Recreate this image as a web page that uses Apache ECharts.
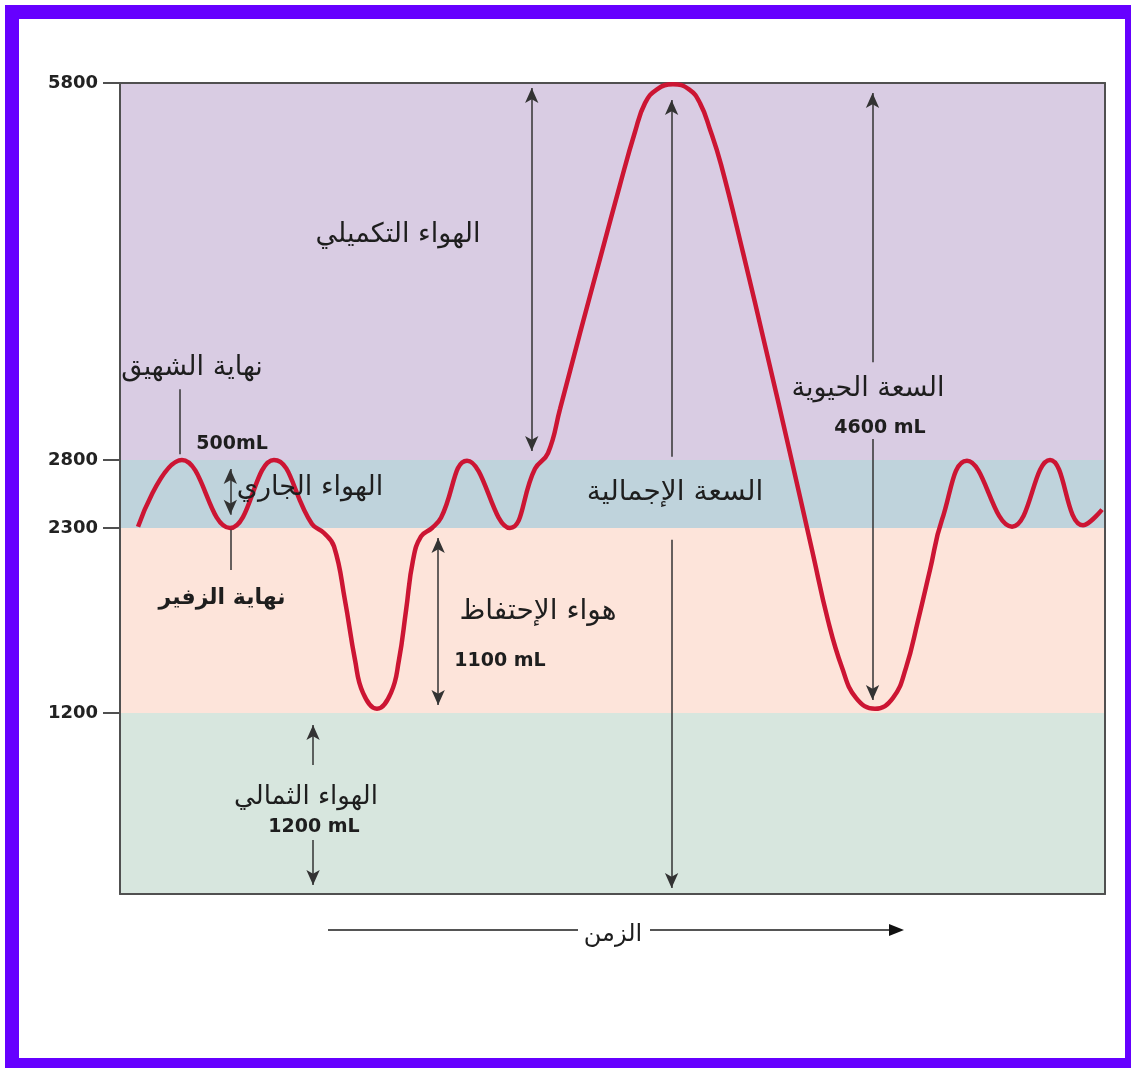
<!DOCTYPE html>
<html><head><meta charset="utf-8">
<script src="https://cdn.jsdelivr.net/npm/echarts@6/dist/echarts.min.js"></script>
<style>html,body{margin:0;padding:0;background:#fff}#c{width:1131px;height:1068px}</style>
</head><body><div id="c"></div>
<script>
// ---- data ----
// time in arbitrary units (0..100 across the plot), lung volume in mL
const timeUnits = [1.83, 6.29, 11.17, 15.63, 19.49, 20.71, 21.73, 22.84, 23.86, 24.67, 26.09, 27.51, 28.32, 29.04, 29.75, 30.56, 31.68, 32.59, 35.23, 39.59, 42.13, 43.45, 44.67, 46.70, 48.73, 50.76, 52.28, 53.30, 54.52, 56.14, 57.77, 58.88, 59.90, 61.02, 63.25, 65.58, 67.92, 70.25, 71.88, 73.30, 74.72, 76.65, 78.48, 79.80, 81.02, 82.23, 83.45, 85.99, 90.56, 94.42, 97.77, 99.70];
const volumeML  = [2310, 2800, 2300, 2800, 2330, 2270, 2190, 1870, 1515, 1320, 1225, 1320, 1515, 1810, 2110, 2250, 2300, 2375, 2795, 2300, 2735, 2855, 3205, 3810, 4400, 4990, 5410, 5640, 5750, 5790, 5750, 5640, 5430, 5150, 4450, 3680, 2890, 2170, 1750, 1470, 1290, 1225, 1290, 1470, 1750, 2050, 2360, 2795, 2310, 2800, 2320, 2435];

// y tick labels (mL)
const yTickValues = [1200, 2300, 2800, 5800];
// lung-volume bands (mL edges) and their fills
const bandEdges = [0, 1200, 2300, 2800, 5800];
const bandColors = ['#d7e6de', '#fde4da', '#bfd3dc', '#d9cce3'];

// the reference draws the volume axis piecewise-linearly; breakpoints of that scale
const scaleVol  = [0, 1200, 2300, 2800, 5800];
const scaleDisp = [0, 181, 366, 434, 811];
function toDisp(v){
  for (let i=1;i<scaleVol.length;i++){
    if (v<=scaleVol[i] || i===scaleVol.length-1){
      const a=scaleVol[i-1], b=scaleVol[i];
      return scaleDisp[i-1] + (v-a)/(b-a)*(scaleDisp[i]-scaleDisp[i-1]);
    }
  }
}
function toVol(d){
  for (let i=1;i<scaleDisp.length;i++){
    if (d<=scaleDisp[i]+1e-6 || i===scaleDisp.length-1){
      const a=scaleDisp[i-1], b=scaleDisp[i];
      return scaleVol[i-1] + (d-a)/(b-a)*(scaleVol[i]-scaleVol[i-1]);
    }
  }
}

// annotation arrows: time, from volume, to volume, heads at [from, to]
const arrowT    = [41.8, 56.0, 56.0, 76.4, 76.4, 32.3, 11.2, 19.6, 19.6, 6.1, 11.2];
const arrowFrom = [2871, 2825, 2230, 3578, 2967, 2240, 2733, 855, 358, 2845, 2289];
const arrowTo   = [5760, 5665, 40, 5720, 1277, 1248, 2397, 1120, 60, 3363, 2050];
const arrowHeads= [[1,1],[0,1],[0,1],[0,1],[0,1],[1,1],[1,1],[0,1],[0,1],[0,0],[0,0]];

// ---- chart ----
const chart = echarts.init(document.getElementById('c'), null, {renderer:'canvas'});
const curve = timeUnits.map((t,i)=>[t, toDisp(volumeML[i])]);
const bands = bandColors.map((c,i)=>[{yAxis: toDisp(bandEdges[i]), itemStyle:{color:c}}, {yAxis: toDisp(bandEdges[i+1])}]);
const arrowLines = arrowT.map((t,i)=>[
  {coord:[t, toDisp(arrowFrom[i])], symbol: arrowHeads[i][0]?'arrow':'none'},
  {coord:[t, toDisp(arrowTo[i])],   symbol: arrowHeads[i][1]?'arrow':'none'}
]);

const AR = '"DejaVu Sans", sans-serif';
const NUM = '"DejaVu Sans", "Liberation Sans", sans-serif';
function txt(text, x, y, size, bold, fam){
  return {type:'text', x:x, y:y, z:10, style:{text:text, fill:'#1e1e1e', align:'center', verticalAlign:'middle',
    font:(bold?'bold ':'')+size+'px '+(fam||AR)}};
}
const frameColor = '#6600ff';

const option = {
  animation:false,
  backgroundColor:'#ffffff',
  grid:{left:120, top:83, right:26, bottom:174, containLabel:false, outerBoundsMode:'none', show:false},
  xAxis:[
    {type:'value', min:0, max:100, position:'bottom', z:3,
     axisLine:{show:true, onZero:false, lineStyle:{color:'#505050', width:2}}, axisTick:{show:false}, axisLabel:{show:false}, splitLine:{show:false}},
    {type:'value', min:0, max:100, position:'top', z:3,
     axisLine:{show:true, onZero:false, lineStyle:{color:'#505050', width:2}}, axisTick:{show:false}, axisLabel:{show:false}, splitLine:{show:false}}
  ],
  yAxis:[
    {type:'value', min:0, max:811, position:'left', z:3,
     axisLine:{show:true, onZero:false, lineStyle:{color:'#505050', width:2}},
     axisTick:{show:true, length:17, lineStyle:{color:'#505050', width:2}, customValues: yTickValues.map(toDisp)},
     axisLabel:{show:true, customValues: yTickValues.map(toDisp), margin:22,
       formatter:(d)=>String(Math.round(toVol(d)/100)*100), color:'#222', fontSize:18, fontWeight:'bold', fontFamily:NUM},
     splitLine:{show:false}},
    {type:'value', min:0, max:811, position:'right', z:3,
     axisLine:{show:true, onZero:false, lineStyle:{color:'#505050', width:2}}, axisTick:{show:false}, axisLabel:{show:false}, splitLine:{show:false}}
  ],
  series:[
    {type:'line', name:'bands', data:[], z:1, silent:true,
     markArea:{silent:true, data:bands}},
    {type:'line', name:'annotations', data:[], z:3, silent:true,
     markLine:{silent:true, animation:false, symbol:['none','none'], symbolSize:[10,15],
       label:{show:false}, emphasis:{disabled:true},
       lineStyle:{color:'#333', width:1.5, type:'solid'}, data:arrowLines}},
    {type:'line', name:'volume', data:curve, z:4, smooth:0.45, showSymbol:false, silent:true,
     lineStyle:{color:'#cc1533', width:4.5}}
  ],
  graphic:[
    {type:'rect', shape:{x:5, y:5, width:1126, height:14}, style:{fill:frameColor}, z:20},
    {type:'rect', shape:{x:5, y:5, width:14, height:1063}, style:{fill:frameColor}, z:20},
    {type:'rect', shape:{x:1125, y:5, width:6, height:1063}, style:{fill:frameColor}, z:20},
    {type:'rect', shape:{x:5, y:1058, width:1126, height:10}, style:{fill:frameColor}, z:20},
    txt('الهواء التكميلي', 398, 235, 27),
    txt('نهاية الشهيق', 192, 368, 27),
    txt('500mL', 232, 444, 19, true, NUM),
    txt('الهواء الجاري', 310, 488, 27),
    txt('نهاية الزفير', 222, 598, 22, true),
    txt('هواء الإحتفاظ', 538, 612, 28),
    txt('1100 mL', 500, 661, 19, true, NUM),
    txt('السعة الإجمالية', 675, 493, 28),
    txt('السعة الحيوية', 868, 389, 27),
    txt('4600 mL', 880, 428, 19, true, NUM),
    txt('الهواء الثمالي', 306, 797, 26),
    txt('1200 mL', 314, 827, 19, true, NUM),
    txt('الزمن', 613, 935, 24),
    {type:'line', shape:{x1:328, y1:930, x2:578, y2:930}, style:{stroke:'#555', lineWidth:2}, z:10},
    {type:'line', shape:{x1:650, y1:930, x2:892, y2:930}, style:{stroke:'#555', lineWidth:2}, z:10},
    {type:'polygon', shape:{points:[[904,930],[889,924],[889,936]]}, style:{fill:'#111'}, z:10}
  ]
};
chart.setOption(option);
</script>
</body></html>
